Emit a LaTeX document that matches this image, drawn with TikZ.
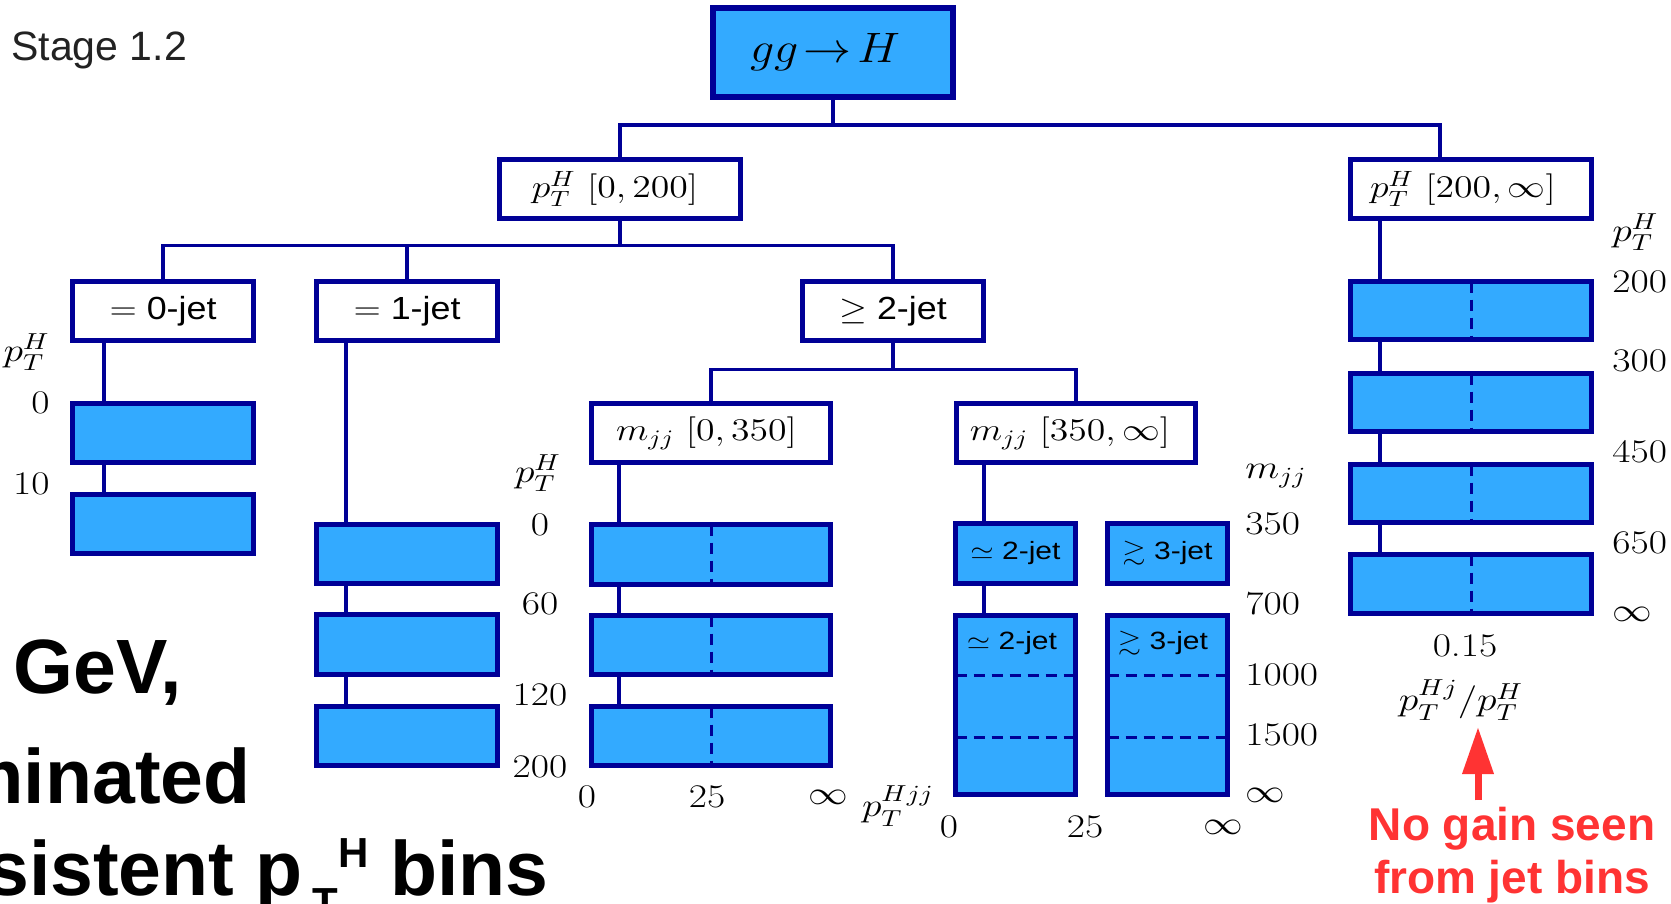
\documentclass[tikz,border=0pt]{standalone}
\usepackage{fix-cm}
\usepackage{amsmath,amssymb}
\usepackage[no-math]{fontspec}
\usepackage{graphicx}
\usetikzlibrary{arrows.meta,calc}
\newfontfamily\sansf{Liberation Sans}
\definecolor{navy}{RGB}{0,0,150}
\definecolor{binblue}{RGB}{51,170,255}
\definecolor{alertred}{RGB}{255,51,51}
\definecolor{slidegray}{RGB}{34,34,34}
% the figure's serif and sans labels are set a little wide
\newcommand\cmw[1]{\scalebox{1.2}[1]{#1}}
\newcommand\sfw[1]{\scalebox{1.12}[1]{#1}}
\tikzset{
  sz/.style 2 args={minimum width=#1*0.5pt, minimum height=#2*0.5pt},
  conn/.style={draw=navy, line width=1.75pt},
  whitebox/.style={draw=navy, line width=2.5pt, fill=white, inner sep=0pt, outer sep=0pt},
  binbox/.style={draw=navy, line width=2.5pt, fill=binblue, inner sep=0pt, outer sep=0pt},
  divider/.style={draw=navy, line width=1.5pt, dash pattern=on 5.5pt off 3.5pt},
  mathlab/.style={font=\fontsize{15.75pt}{18pt}\selectfont},
  jetlab/.style={font=\sansf\fontsize{16pt}{18pt}\selectfont},
  smalljet/.style={font=\sansf\fontsize{12.5pt}{14pt}\selectfont, inner sep=0pt},
  axlab/.style={inner sep=0pt, font=\fontsize{16.5pt}{18pt}\selectfont},
  redtxt/.style={inner sep=0pt, text=alertred, font=\sansf\bfseries\fontsize{23pt}{26pt}\selectfont},
  bigtxt/.style={inner sep=0pt, text=black, font=\sansf\bfseries\fontsize{38.5pt}{40pt}\selectfont},
  redarrow/.style={draw=alertred, line width=3.5pt, -{Triangle[width=15pt,length=23.5pt]}},
}
\begin{document}
\begin{tikzpicture}[x=0.5pt,y=-0.5pt]
\useasboundingbox (0,0) rectangle (1671,904);
\clip (0,0) rectangle (1671,904);

% title
\node[inner sep=0pt, anchor=base west, text=slidegray, font=\sansf\fontsize{20.5pt}{22pt}\selectfont] (title) at (11,61) {Stage 1.2};

% tree of categories
\node[binbox, line width=3pt, sz={240}{89}] (top) at (833,52.5)
  {\fontsize{21.25pt}{24pt}\selectfont\scalebox{1.13}[1]{$gg\!\rightarrow\!H$}\hspace*{8pt}};
\node[whitebox, mathlab, sz={241}{59}] (ptlo) at (620,189) {\cmw{$p_T^H\ [0,200]$}\hspace*{5pt}};
\node[whitebox, mathlab, sz={241}{59}] (pthi) at (1471,189) {\cmw{$p_T^H\ [200,\infty]$}\hspace*{8pt}};
\node[whitebox, jetlab, sz={181}{59}] (j0) at (163,311) {\sfw{$=$ 0-jet}};
\node[whitebox, jetlab, sz={181}{59}] (j1) at (407,311) {\sfw{$=$ 1-jet}};
\node[whitebox, jetlab, sz={181}{59}] (j2) at (893,311) {\sfw{$\geq$ 2-jet}};
\node[whitebox, mathlab, sz={239}{59}] (mlo) at (711,433) {\cmw{$m_{jj}\ [0,350]$}\hspace*{4.5pt}};
\node[whitebox, mathlab, sz={239}{59}] (mhi) at (1076,433) {\cmw{$m_{jj}\ [350,\infty]$}\hspace*{6pt}};

\draw[conn] (top.south) -- ++(0,28) -| (ptlo.north);
\draw[conn] (top.south) -- ++(0,28) -| ($(pthi.north)+(-31,0)$);
\draw[conn] (ptlo.south) -- ++(0,27) -| (j0.north);
\draw[conn] (ptlo.south) -- ++(0,27) -| (j1.north);
\draw[conn] (ptlo.south) -- ++(0,27) -| (j2.north);
\draw[conn] (j2.south) -- ++(0,29) -| (mlo.north);
\draw[conn] (j2.south) -- ++(0,29) -| (mhi.north);

% bins: 0-jet
\node[binbox, sz={181}{59}] (a1) at (163,432.5) {};
\node[binbox, sz={181}{59}] (a2) at (163,524) {};
\coordinate (ca) at (104,0);
\draw[conn] (j0.south -| ca) -- (a1.north -| ca);
\draw[conn] (a1.south -| ca) -- (a2.north -| ca);

% bins: 1-jet
\node[binbox, sz={181}{59}] (b1) at (407,554) {};
\node[binbox, sz={181}{60}] (b2) at (407,644.5) {};
\node[binbox, sz={181}{59}] (b3) at (407,736) {};
\coordinate (cb) at (346,0);
\draw[conn] (j1.south -| cb) -- (b1.north -| cb);
\draw[conn] (b1.south -| cb) -- (b2.north -| cb);
\draw[conn] (b2.south -| cb) -- (b3.north -| cb);

% bins: mjj < 350
\node[binbox, sz={239}{60}] (c1) at (711,554.5) {};
\node[binbox, sz={239}{59}] (c2) at (711,645) {};
\node[binbox, sz={239}{59}] (c3) at (711,736) {};
\coordinate (cc) at (619,0);
\draw[conn] (mlo.south -| cc) -- (c1.north -| cc);
\draw[conn] (c1.south -| cc) -- (c2.north -| cc);
\draw[conn] (c2.south -| cc) -- (c3.north -| cc);
\foreach \b in {c1,c2,c3} \draw[divider] (\b.north) -- (\b.south);

% bins: mjj > 350
\node[binbox, smalljet, sz={120}{60}] (d1) at (1015.5,553.5) {\cmw{$\simeq$ 2-jet}};
\node[binbox, smalljet, sz={120}{60}] (e1) at (1167.5,553.5) {\cmw{$\gtrsim$ 3-jet}};
\node[binbox, sz={120}{179}] (d2) at (1015.5,705) {};
\node[binbox, sz={120}{179}] (e2) at (1167.5,705) {};
\node[smalljet] (d2t) at (1012,643) {\cmw{$\simeq$ 2-jet}};
\node[smalljet] (e2t) at (1163,643) {\cmw{$\gtrsim$ 3-jet}};
\coordinate (cd) at (984,0);
\draw[conn] (mhi.south -| cd) -- (d1.north -| cd);
\draw[conn] (d1.south -| cd) -- (d2.north -| cd);
\foreach \b in {d2,e2} {
  \draw[divider] (\b.west |- 0,675) -- (\b.east |- 0,675);
  \draw[divider] (\b.west |- 0,737) -- (\b.east |- 0,737);
}

% bins: pT > 200
\node[binbox, sz={241}{58}] (f1) at (1471,310.5) {};
\node[binbox, sz={241}{58}] (f2) at (1471,402.5) {};
\node[binbox, sz={241}{58}] (f3) at (1471,493.5) {};
\node[binbox, sz={241}{59}] (f4) at (1471,584) {};
\coordinate (cf) at (1380,0);
\draw[conn] (pthi.south -| cf) -- (f1.north -| cf);
\draw[conn] (f1.south -| cf) -- (f2.north -| cf);
\draw[conn] (f2.south -| cf) -- (f3.north -| cf);
\draw[conn] (f3.south -| cf) -- (f4.north -| cf);
\foreach \b in {f1,f2,f3,f4} \draw[divider] (\b.north) -- (\b.south);

% axis labels, 0-jet
\node[axlab, anchor=east] (la0) at (50,352) {\cmw{$p_T^H$}};
\node[axlab, anchor=east] (la1) at (50,403) {\cmw{0}};
\node[axlab, anchor=east] (la2) at (50,484) {\cmw{10}};

% axis labels, 1-jet
\node[axlab] (lb0) at (538,473) {\cmw{$p_T^H$}};
\node[axlab] (lb1) at (540,525) {\cmw{0}};
\node[axlab] (lb2) at (540,604) {\cmw{60}};
\node[axlab] (lb3) at (540,695) {\cmw{120}};
\node[axlab] (lb4) at (540,767) {\cmw{200}};

% axis labels, mjj < 350
\node[axlab] (lc1) at (587,797) {\cmw{0}};
\node[axlab] (lc2) at (707,797) {\cmw{25}};
\node[axlab] (lc3) at (828,797) {\cmw{$\infty$}};
\node[axlab] (lc4) at (898,806) {\cmw{$p_T^{Hjj}$}};

% axis labels, mjj > 350
\node[axlab] (ld1) at (949,827) {\cmw{0}};
\node[axlab] (ld2) at (1085,827) {\cmw{25}};
\node[axlab] (ld3) at (1223,827) {\cmw{$\infty$}};
\node[axlab, anchor=west] (le0) at (1245,476) {\cmw{$m_{jj}$}};
\node[axlab, anchor=west] (le1) at (1245,524) {\cmw{350}};
\node[axlab, anchor=west] (le2) at (1245,604) {\cmw{700}};
\node[axlab, anchor=west] (le3) at (1245,675) {\cmw{1000}};
\node[axlab, anchor=west] (le4) at (1245,735) {\cmw{1500}};
\node[axlab, anchor=west] (le5) at (1245,795) {\cmw{$\infty$}};

% axis labels, pT > 200
\node[axlab, anchor=west] (lf0) at (1612,232) {\cmw{$p_T^H$}};
\node[axlab, anchor=west] (lf1) at (1612,282) {\cmw{200}};
\node[axlab, anchor=west] (lf2) at (1612,361) {\cmw{300}};
\node[axlab, anchor=west] (lf3) at (1612,452) {\cmw{450}};
\node[axlab, anchor=west] (lf4) at (1612,543) {\cmw{650}};
\node[axlab, anchor=west] (lf5) at (1612,614) {\cmw{$\infty$}};
\node[axlab] (lg1) at (1465,646) {\cmw{0.15}};
\node[axlab] (ratio) at (1461,700) {\cmw{$p_T^{Hj}/p_T^H$}};

% annotation
\node[redtxt, anchor=base] (note1) at (1512,840) {No gain seen};
\node[redtxt, anchor=base] (note2) at (1512,893) {from jet bins};
\coordinate (arr) at (1478,0);
\draw[redarrow] ($(note1.north -| arr)+(0,-6)$) -- ($(ratio.south -| arr)+(0,6)$);

% slide text running in from the left
\node[bigtxt, anchor=base west] (gev) at (13,693) {GeV,};
\node[bigtxt, anchor=base east] (dom) at (251,803) {minated};
\node[bigtxt, anchor=base east] (cons) at (549,895)
  {sistent p\kern5pt\raisebox{-11pt}{\fontsize{21pt}{21pt}\selectfont T}\raisebox{14pt}{\fontsize{21pt}{21pt}\selectfont H} bins};
\end{tikzpicture}
\end{document}
